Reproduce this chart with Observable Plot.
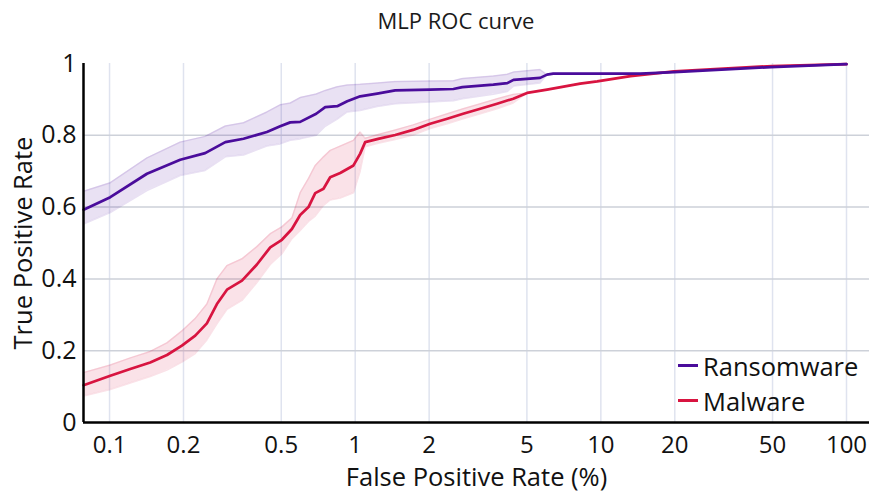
<!DOCTYPE html>
<html>
<head>
<meta charset="utf-8">
<script src="https://cdn.jsdelivr.net/npm/d3@7"></script>
<script src="https://cdn.jsdelivr.net/npm/@observablehq/plot@0.6"></script>
<style>
  body { margin: 0; background: #fff; font-family: "Open Sans", sans-serif; }
  #wrap { position: relative; width: 869px; height: 495px; }
  #title { height: 40px; line-height: 40px; font-size: 22px; color: #1a1a1a; text-align: center; padding-left: 43px; }
  #legend { position: absolute; left: 678px; top: 348px; font-size: 25.5px; color: #111; }
  .item { display: flex; align-items: center; height: 35px; }
  .swatch { width: 20px; height: 3px; margin-right: 5px; }
</style>
</head>
<body>
<div id="wrap">
  <div id="title">MLP ROC curve</div>
  <div id="chart"></div>
  <div id="legend"></div>
</div>
<script>
// Mean ROC curves (FPR in %, TPR) with the spread across folds as a band
const ransomFpr = [0.0784, 0.1007, 0.142, 0.194, 0.245, 0.296, 0.351, 0.437, 0.495, 0.544, 0.597, 0.694, 0.755, 0.845, 0.928, 1.048, 1.229, 1.455, 2.02, 2.51, 2.73, 3.65, 4.16, 4.41, 5.66, 6.04, 6.40, 14.5, 19.9, 49.3, 100];
const ransomTpr = [0.5925, 0.6276, 0.6929, 0.7319, 0.7503, 0.781, 0.7905, 0.809, 0.825, 0.836, 0.8374, 0.860, 0.8787, 0.881, 0.895, 0.9085, 0.916, 0.925, 0.9275, 0.929, 0.934, 0.941, 0.9453, 0.9545, 0.960, 0.969, 0.972, 0.972, 0.976, 0.990, 0.998];
const ransomLo  = [0.553, 0.585, 0.646, 0.688, 0.702, 0.740, 0.745, 0.770, 0.776, 0.786, 0.790, 0.800, 0.825, 0.845, 0.865, 0.869, 0.880, 0.888, 0.893, 0.896, 0.902, 0.914, 0.922, 0.937, 0.946, 0.969, 0.972, 0.972, 0.976, 0.990, 0.998];
const ransomHi  = [0.644, 0.668, 0.737, 0.781, 0.797, 0.826, 0.835, 0.865, 0.885, 0.890, 0.905, 0.915, 0.925, 0.935, 0.940, 0.942, 0.946, 0.950, 0.951, 0.952, 0.958, 0.965, 0.970, 0.976, 0.983, 0.969, 0.972, 0.972, 0.976, 0.990, 0.998];

const malwareFpr = [0.0784, 0.1007, 0.1214, 0.1464, 0.1713, 0.197, 0.2233, 0.249, 0.2736, 0.3006, 0.346, 0.398, 0.451, 0.503, 0.5526, 0.597, 0.6455, 0.6875, 0.743, 0.791, 0.869, 0.984, 1.048, 1.098, 1.24, 1.455, 1.72, 2.02, 2.37, 2.75, 3.23, 3.78, 4.40, 5.01, 6.04, 8.24, 9.66, 13.2, 19.9, 49.8, 100];
const malwareTpr = [0.104, 0.130, 0.149, 0.167, 0.188, 0.214, 0.242, 0.276, 0.330, 0.370, 0.395, 0.440, 0.488, 0.509, 0.539, 0.578, 0.600, 0.639, 0.651, 0.683, 0.695, 0.716, 0.749, 0.781, 0.790, 0.801, 0.815, 0.832, 0.846, 0.860, 0.874, 0.888, 0.902, 0.918, 0.927, 0.944, 0.950, 0.965, 0.978, 0.993, 0.998];
const malwareLo  = [0.074, 0.092, 0.110, 0.128, 0.146, 0.168, 0.192, 0.230, 0.275, 0.315, 0.340, 0.390, 0.440, 0.470, 0.512, 0.535, 0.560, 0.575, 0.605, 0.620, 0.625, 0.640, 0.700, 0.768, 0.778, 0.788, 0.801, 0.819, 0.832, 0.846, 0.860, 0.874, 0.890, 0.918, 0.927, 0.944, 0.950, 0.965, 0.978, 0.993, 0.998];
const malwareHi  = [0.139, 0.160, 0.180, 0.198, 0.222, 0.255, 0.290, 0.330, 0.400, 0.437, 0.456, 0.490, 0.526, 0.545, 0.570, 0.640, 0.680, 0.716, 0.740, 0.758, 0.770, 0.786, 0.809, 0.792, 0.802, 0.815, 0.829, 0.845, 0.860, 0.874, 0.888, 0.902, 0.914, 0.918, 0.927, 0.944, 0.950, 0.965, 0.978, 0.993, 0.998];

const seriesNames  = ["Ransomware", "Malware"];
const seriesColors = ["#4a0c9b", "#d81440"];

const xTicks  = [0.1, 0.2, 0.5, 1, 2, 5, 10, 20, 50, 100];
const yTicks  = [0, 0.2, 0.4, 0.6, 0.8, 1];
const yGrid   = [0.2, 0.4, 0.6, 0.8];
const xDomain = [0.07834, 124.06];
const xLabel  = "False Positive Rate (%)";
const yLabel  = "True Positive Rate";

const toRows = (fpr, tpr, lo, hi) => fpr.map((f, i) => ({fpr: f, tpr: tpr[i], lo: lo[i], hi: hi[i]}));
const series = [
  {name: seriesNames[0], color: seriesColors[0], rows: toRows(ransomFpr, ransomTpr, ransomLo, ransomHi)},
  {name: seriesNames[1], color: seriesColors[1], rows: toRows(malwareFpr, malwareTpr, malwareLo, malwareHi)}
];

const bandMarks = series.flatMap(s => [
  Plot.areaY(s.rows, {x: "fpr", y1: "lo", y2: "hi", fill: s.color, fillOpacity: 0.12}),
  Plot.line(s.rows, {x: "fpr", y: "lo", stroke: s.color, strokeOpacity: 0.12, strokeWidth: 1.5}),
  Plot.line(s.rows, {x: "fpr", y: "hi", stroke: s.color, strokeOpacity: 0.12, strokeWidth: 1.5})
]);
// malware drawn first so the ransomware line sits on top where they meet
const lineMarks = [...series].reverse().map(s =>
  Plot.line(s.rows, {x: "fpr", y: "tpr", stroke: s.color, strokeWidth: 2.7})
);

const fmt = d => `${d}`;

const chart = Plot.plot({
  width: 869,
  height: 455,
  marginTop: 23,
  marginBottom: 73,
  marginLeft: 83,
  marginRight: 0,
  style: {fontFamily: "Open Sans", background: "white", color: "#111", overflow: "visible"},
  x: {type: "log", domain: xDomain, axis: null},
  y: {domain: [0, 1], axis: null},
  marks: [
    Plot.gridX(xTicks, {stroke: "#dfe3ef", strokeOpacity: 1, strokeWidth: 1.5}),
    Plot.gridY(yGrid, {stroke: "#cdd1d9", strokeOpacity: 1, strokeWidth: 1.5}),
    ...bandMarks,
    ...lineMarks,
    Plot.ruleX([xDomain[0]], {stroke: "#000", strokeWidth: 2.5}),
    Plot.ruleY([0], {stroke: "#000", strokeWidth: 2.5}),
    // tick labels
    Plot.text(xTicks, {x: d => d, text: fmt, frameAnchor: "bottom", lineAnchor: "middle", dy: 23, fontSize: 24}),
    Plot.text(yTicks, {y: d => d, text: fmt, frameAnchor: "left", textAnchor: "end", dx: -7, fontSize: 25}),
    // axis titles
    Plot.text([xLabel], {frameAnchor: "bottom", lineAnchor: "middle", dy: 55, fontSize: 25.5}),
    Plot.text([yLabel], {frameAnchor: "left", textAnchor: "middle", lineAnchor: "middle", rotate: -90, dx: -60, fontSize: 25.5})
  ]
});
document.getElementById("chart").appendChild(chart);

// legend
const legend = d3.select("#legend");
const items = legend.selectAll(".item").data(series).join("div").attr("class", "item");
items.append("div").attr("class", "swatch").style("background", d => d.color);
items.append("span").text(d => d.name);
</script>
</body>
</html>
